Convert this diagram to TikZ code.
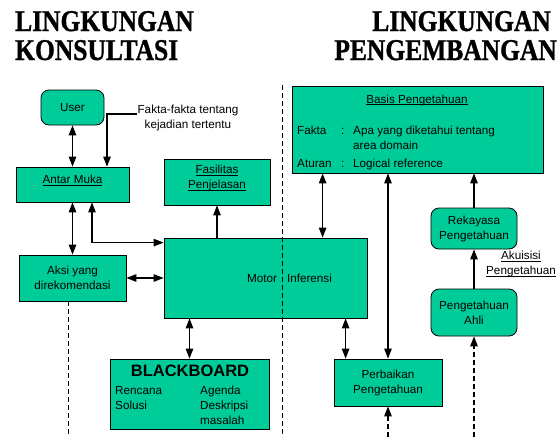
\documentclass[tikz,border=0pt]{standalone}
\usepackage{fontspec}
\usepackage{graphicx}
\setmainfont{Liberation Sans}
\newfontfamily\headfont[BoldFeatures={FakeBold=1.2}]{Liberation Serif}
\usetikzlibrary{arrows.meta}

\definecolor{kbgreen}{RGB}{0,204,153}
\newcommand\ul[1]{\underline{\smash{#1}}}
\newcommand\tall[1]{\scalebox{1}[1.18]{#1}}

\tikzset{
    box/.style={draw, fill=kbgreen, line width=0.8pt, align=center, inner sep=0pt},
    rbox/.style={box, rounded corners=8pt},
    arr/.style={line width=1.1pt, -{Triangle[length=10pt,width=7.5pt]}},
    dbl/.style={line width=1.1pt, {Triangle[length=10pt,width=7.5pt]}-{Triangle[length=10pt,width=7.5pt]}},
    dline/.style={line width=0.8pt, dash pattern=on 5pt off 3pt},
    head/.style={inner sep=0pt, font=\headfont\bfseries\fontsize{25.5}{29}\selectfont}
}

\begin{document}
\begin{tikzpicture}[x=1pt, y=-1pt, font=\fontsize{11.7}{15}\selectfont]
    \useasboundingbox (0,0) rectangle (560,437);

    % headings
    \node[head, anchor=base west] at (15,31)(hk1) {\tall{LINGKUNGAN}};
    \node[head, anchor=base west] at (15,60)(hk2) {\tall{KONSULTASI}};
    \node[head, anchor=base east] at (551,31)(hp1) {\tall{LINGKUNGAN}};
    \node[head, anchor=base east] at (557,60)(hp2) {\tall{PENGEMBANGAN}};

    % consultation side
    \node[rbox, minimum width=63pt, minimum height=35pt] at (72.5,107.5)(user) {User};
    \node[box, minimum width=113pt, minimum height=35pt] at (72.5,184.5)(antar) {\ul{Antar Muka}};
    \node[box, minimum width=107pt, minimum height=46pt] at (72.5,278)(aksi) {Aksi yang\\direkomendasi};
    \node[box, minimum width=106pt, minimum height=46pt] at (217,182)(fasil) {\ul{Fasilitas}\\\ul{Penjelasan}};
    \node[box, minimum width=203pt, minimum height=80pt] at (265.5,278)(motor) {};
    \node[inner sep=0pt] at (289.5,278)(motorlbl) {Motor\hspace{10pt}Inferensi};
    \node[inner sep=0pt, align=center] at (188,117.5)(fakta) {Fakta-fakta tentang\\kejadian tertentu};

    \node[box, minimum width=159pt, minimum height=70pt] at (189.5,394)(black) {};
    \node[anchor=base, inner sep=0pt, font=\bfseries\fontsize{16.5}{18}\selectfont] at (190,376)(bbtitle) {BLACKBOARD};
    \node[anchor=base west, inner sep=0pt] at (115,394)(bbleft) {\begin{tabular}[t]{@{}l@{}}Rencana\\Solusi\end{tabular}};
    \node[anchor=base west, inner sep=0pt] at (200,394)(bbright) {\begin{tabular}[t]{@{}l@{}}Agenda\\Deskripsi\\masalah\end{tabular}};

    % development side
    \node[box, minimum width=251pt, minimum height=87pt] at (417.5,129.5)(basis) {};
    \node[anchor=base, inner sep=0pt] at (417,103)(basistitle) {\ul{Basis Pengetahuan}};
    \node[anchor=base west, inner sep=0pt] at (297,134)(basistab) {\begin{tabular}[t]{@{}p{44pt}@{}p{12pt}@{}l@{}}
        Fakta & : & Apa yang diketahui tentang\\
              &   & area domain\\[3pt]
        Aturan & : & Logical reference
    \end{tabular}};
    \node[rbox, minimum width=86pt, minimum height=41pt] at (474,228.5)(rekayasa) {Rekayasa\\Pengetahuan};
    \node[rbox, minimum width=86pt, minimum height=47pt] at (474,312.5)(ahli) {Pengetahuan\\Ahli};
    \node[box, minimum width=108pt, minimum height=47pt] at (388,382.5)(perbaikan) {Perbaikan\\Pengetahuan};
    \node[inner sep=0pt, align=center] at (521,268)(akuisisi) {\ul{Akuisisi}\\\ul{Pengetahuan}};

    \coordinate (bot) at (0,437);
    \coordinate (divtop) at (282,85);
    \coordinate (ak) at ([xshift=-4.5pt]aksi.south);
    \coordinate (bm) at ([xshift=31pt]basis.south west);
    \coordinate (mp) at ([xshift=12pt]perbaikan.north west);

    % connectors
    \draw[dbl] (user) -- (antar);
    \draw[arr] ([yshift=3.5pt]fakta.west) -| ([xshift=34.5pt]antar.north);
    \draw[dbl] (antar) -- (aksi);
    \draw[dbl] ([yshift=-5pt]motor.north west) -| ([xshift=19.5pt]antar.south);
    \draw[arr] (motor.north -| fasil.south) -- (fasil.south);
    \draw[dbl] (aksi) -- (motor);
    \draw[dbl] (motor.south -| black.north) -- (black.north);
    \draw[dbl] (bm) -- (bm |- motor.north);
    \draw[dbl] (basis.south -| perbaikan.north) -- (perbaikan.north);
    \draw[dbl] (mp |- motor.south) -- (mp);
    \draw[arr] (rekayasa.north) -- (rekayasa.north |- basis.south);
    \draw[arr] (ahli) -- (rekayasa);
    \draw[dline, arr] (ahli.south |- bot) -- (ahli.south);
    \draw[dline, arr] (perbaikan.south |- bot) -- (perbaikan.south);
    \draw[dline] (ak) -- (ak |- bot);
    \draw[dline] (divtop) -- (divtop |- bot);

\end{tikzpicture}
\end{document}
